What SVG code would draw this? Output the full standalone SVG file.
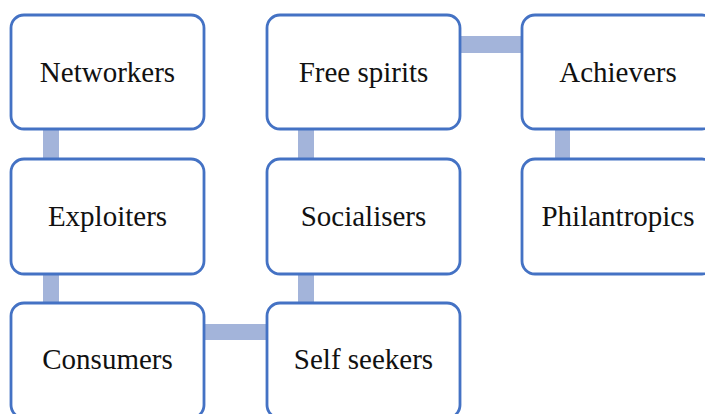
<svg xmlns="http://www.w3.org/2000/svg" width="705" height="414" viewBox="0 0 705 414">
<style>
.box{fill:#fff;stroke:#4472C4;stroke-width:2.8}
.lbl{font-family:"Liberation Serif","Times New Roman",serif;font-size:29px;fill:#111;text-anchor:middle}
.con{fill:#A3B4DA}
</style>
<rect width="705" height="414" fill="#fff"/>
<g id="connectors">
<rect class="con" x="43" y="129" width="16" height="30"/>
<rect class="con" x="43" y="274" width="16" height="29"/>
<rect class="con" x="204" y="324" width="63" height="16"/>
<rect class="con" x="298" y="274" width="16" height="29"/>
<rect class="con" x="298" y="129" width="16" height="30"/>
<rect class="con" x="460" y="36" width="62" height="17"/>
<rect class="con" x="555" y="129" width="15" height="30"/>
</g>
<g id="networkers"><rect class="box" x="11" y="15" width="193" height="114" rx="13"/><text class="lbl" x="107.5" y="82">Networkers</text></g>
<g id="exploiters"><rect class="box" x="11" y="159" width="193" height="115" rx="13"/><text class="lbl" x="107.5" y="226">Exploiters</text></g>
<g id="consumers"><rect class="box" x="11" y="303" width="193" height="115" rx="13"/><text class="lbl" x="107.5" y="369">Consumers</text></g>
<g id="free-spirits"><rect class="box" x="267" y="15" width="193" height="114" rx="13"/><text class="lbl" x="363.5" y="82">Free spirits</text></g>
<g id="socialisers"><rect class="box" x="267" y="159" width="193" height="115" rx="13"/><text class="lbl" x="363.5" y="226">Socialisers</text></g>
<g id="self-seekers"><rect class="box" x="267" y="303" width="193" height="115" rx="13"/><text class="lbl" x="363.5" y="369">Self seekers</text></g>
<g id="achievers"><rect class="box" x="522" y="15" width="193" height="114" rx="13"/><text class="lbl" x="618" y="82">Achievers</text></g>
<g id="philantropics"><rect class="box" x="522" y="159" width="193" height="115" rx="13"/><text class="lbl" x="618" y="226">Philantropics</text></g>
</svg>
